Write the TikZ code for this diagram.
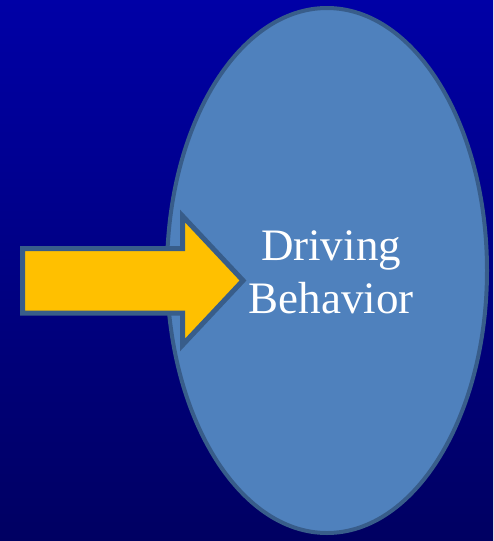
\documentclass[tikz,border=0pt]{standalone}
\usepackage{fontspec}
\setmainfont{Liberation Serif}
\usetikzlibrary{shapes.geometric}
\definecolor{bgtop}{HTML}{0000A6}
\definecolor{bgbottom}{HTML}{000062}
\definecolor{ovalfill}{HTML}{4F81BD}
\definecolor{ovalline}{HTML}{385D8A}
\definecolor{arrowfill}{HTML}{FFC000}
\tikzset{
  oval/.style={ellipse, draw=ovalline, line width=4pt, fill=ovalfill,
    minimum width=320pt, minimum height=525pt, inner sep=0pt},
  label/.style={text=white, align=center, font=\fontsize{45}{53}\selectfont},
  blockarrow/.style={draw=ovalline, line width=5pt, fill=arrowfill, line join=miter}
}
\begin{document}
\begin{tikzpicture}[x=1pt, y=-1pt]
  % background
  \shade[top color=bgtop, bottom color=bgbottom] (0,0) rectangle (493,541);
  \useasboundingbox (0,0) rectangle (493,541);

  \node[oval] (behavior) at (327,270.5) {};
  \node[label] (behaviortext) at (331,272) {Driving\\Behavior};

  % input arrow
  \coordinate (tip) at (243,280.5);
  \draw[blockarrow] (22.5,248.5) -- (182.5,248.5) -- (182.5,216)
    -- (tip) -- (182.5,345) -- (182.5,313) -- (22.5,313) -- cycle;
\end{tikzpicture}
\end{document}
